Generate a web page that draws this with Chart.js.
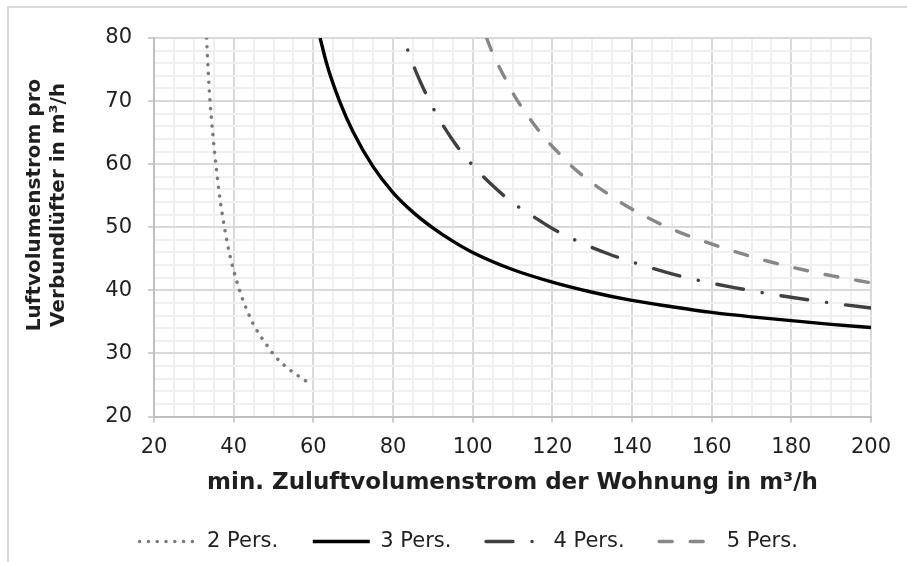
<!DOCTYPE html>
<html><head><meta charset="utf-8">
<script src="https://cdn.jsdelivr.net/npm/chart.js@4.4.1/dist/chart.umd.min.js"></script>
<style>
html,body{margin:0;padding:0;background:#fff;}
#wrap{position:relative;width:907px;height:562px;overflow:hidden;background:#fff;}
#frame{position:absolute;left:7px;top:6px;width:940px;height:600px;border-left:2px solid #d9d9d9;border-top:2px solid #d9d9d9;}
canvas{position:absolute;left:0;top:0;}
</style></head><body>
<div id="wrap"><div id="frame"></div><canvas id="c" width="907" height="562"></canvas></div>
<script>
// ---- data ----
const seriesNames = ['2 Pers.', '3 Pers.', '4 Pers.', '5 Pers.'];
const xTitle = 'min. Zuluftvolumenstrom der Wohnung in m³/h';
const yTitleLines = ['Luftvolumenstrom pro', 'Verbundlüfter in m³/h'];

const x2 = [33.2, 33.6, 34.1, 34.5, 35.1, 35.6, 36.3, 37.2, 38.4, 39.3, 40.5, 41.8, 43.5, 45.4, 47.9, 50.6, 53.9, 57.5, 59.6];
const y2 = [80.0, 74.8, 69.6, 66.6, 62.6, 59.7, 55.8, 51.8, 47.5, 44.9, 42.0, 39.4, 36.6, 34.1, 31.7, 29.4, 27.5, 25.9, 25.0];

const x3 = [61.7, 63.5, 66.7, 70, 75, 80, 85, 90, 95, 100, 110, 120, 130, 140, 150, 160, 170, 180, 190, 200];
const y3 = [80.0, 75.6, 69.8, 65.1, 59.6, 55.5, 52.4, 49.9, 47.8, 46.0, 43.3, 41.3, 39.7, 38.4, 37.4, 36.5, 35.8, 35.2, 34.6, 34.1];

const x4 = [83.7, 86, 88.3, 90.5, 93, 96, 100, 105, 110, 115, 120, 127, 134, 142, 150, 158, 166, 174, 182, 191, 200];
const y4 = [78.1, 74.3, 71.1, 68.4, 65.7, 62.9, 59.8, 56.6, 53.9, 51.8, 49.8, 47.6, 45.8, 44.1, 42.6, 41.4, 40.4, 39.5, 38.7, 37.9, 37.2];

const x5 = [103.5, 105, 107, 109, 111, 113.5, 116, 119, 122, 125, 129, 133, 138, 144, 150, 157, 165, 173, 182, 191, 200];
const y5 = [80.0, 77.6, 75.0, 72.6, 70.3, 68.0, 65.8, 63.5, 61.5, 59.6, 57.5, 55.7, 53.6, 51.5, 49.7, 48.0, 46.3, 44.8, 43.4, 42.2, 41.2];

const xMin = 20, xMax = 200, xMajor = 20, xMinor = 5;
const yMin = 20, yMax = 80, yMajor = 10, yMinor = 2;

// ---- chart ----
const pts = (xs, ys) => xs.map((x, i) => ({x: x, y: ys[i]}));
const TXT = '#1f1f1f';
const FONT = '"DejaVu Sans", Verdana, sans-serif';
Chart.defaults.font.family = FONT;
Chart.defaults.color = TXT;

const yTitlePlugin = {
  id: 'yTitlePlugin',
  afterDraw(chart) {
    const ctx = chart.ctx;
    ctx.save();
    ctx.fillStyle = TXT;
    ctx.font = 'bold 20px ' + FONT;
    ctx.textAlign = 'center';
    ctx.textBaseline = 'middle';
    const xs = [35, 59];
    yTitleLines.forEach((t, i) => {
      ctx.save();
      ctx.translate(xs[i], 205);
      ctx.rotate(-Math.PI / 2);
      ctx.fillText(t, 0, 0);
      ctx.restore();
    });
    ctx.restore();
  }
};

const common = {showLine: true, pointRadius: 0, pointHoverRadius: 0, fill: false, cubicInterpolationMode: 'monotone'};

new Chart(document.getElementById('c'), {
  type: 'scatter',
  data: {
    datasets: [
      Object.assign({label: seriesNames[0], data: pts(x2, y2), borderColor: '#7a7a7a', borderWidth: 3.5, borderDash: [0.1, 8.7], borderCapStyle: 'round'}, common),
      Object.assign({label: seriesNames[1], data: pts(x3, y3), borderColor: '#000000', borderWidth: 3.4, borderCapStyle: 'butt'}, common),
      Object.assign({label: seriesNames[2], data: pts(x4, y4), borderColor: '#404040', borderWidth: 3.4, borderDash: [27, 19, 0.1, 19], borderDashOffset: 46, borderCapStyle: 'round'}, common),
      Object.assign({label: seriesNames[3], data: pts(x5, y5), borderColor: '#878787', borderWidth: 3.4, borderDash: [13, 18], borderCapStyle: 'round'}, common)
    ]
  },
  options: {
    responsive: false,
    animation: false,
    events: [],
    layout: {padding: {left: 66.4, right: 36, top: 38, bottom: 0}},
    scales: {
      x: {
        type: 'linear', min: xMin, max: xMax,
        afterFit(s) { s.height = 79.9; },
        ticks: {
          stepSize: xMinor, autoSkip: false, maxRotation: 0, padding: 12,
          font: {size: 21}, color: TXT,
          callback: (v) => (v % xMajor === 0 ? String(v) : '')
        },
        grid: {
          color: (c) => (c.tick && c.tick.value % xMajor === 0 ? '#d9d9d9' : '#efefef'),
          lineWidth: 2,
          tickLength: 6, tickWidth: 1.5,
          tickColor: (c) => (c.tick && c.tick.value % xMajor === 0 ? '#bfbfbf' : 'rgba(0,0,0,0)')
        },
        border: {display: true, color: '#bfbfbf', width: 2},
        title: {display: true, text: xTitle, font: {size: 23, weight: 'bold'}, color: TXT, padding: {top: 0, bottom: 0}}
      },
      y: {
        type: 'linear', min: yMin, max: yMax,
        afterFit(s) { s.width = 87.6; },
        ticks: {
          stepSize: yMinor, autoSkip: false, padding: 16,
          font: {size: 21}, color: TXT,
          callback: (v) => (v % yMajor === 0 ? String(v) : '')
        },
        grid: {
          color: (c) => (c.tick && c.tick.value % yMajor === 0 ? '#d9d9d9' : '#efefef'),
          lineWidth: 2,
          tickLength: 6, tickWidth: 1.5,
          tickColor: (c) => (c.tick && c.tick.value % yMajor === 0 ? '#bfbfbf' : 'rgba(0,0,0,0)')
        },
        border: {display: true, color: '#bfbfbf', width: 2},
        title: {display: false}
      }
    },
    plugins: {
      tooltip: {enabled: false},
      legend: {
        display: true, position: 'bottom', maxHeight: 67.1,
        labels: {
          usePointStyle: true, pointStyle: 'line', pointStyleWidth: 57, padding: 34.6,
          font: {size: 21}, color: TXT,
          generateLabels(chart) {
            return chart.data.datasets.map((ds, i) => ({
              text: ds.label,
              fillStyle: 'rgba(0,0,0,0)',
              strokeStyle: ds.borderColor,
              lineWidth: ds.borderWidth,
              lineDash: ds.borderDash || [],
              lineDashOffset: 0,
              lineCap: ds.borderCapStyle || 'butt',
              lineJoin: 'miter',
              pointStyle: 'line',
              rotation: 180,
              hidden: false,
              fontColor: TXT,
              datasetIndex: i
            }));
          }
        }
      }
    }
  },
  plugins: [yTitlePlugin]
});
</script>
</body></html>
